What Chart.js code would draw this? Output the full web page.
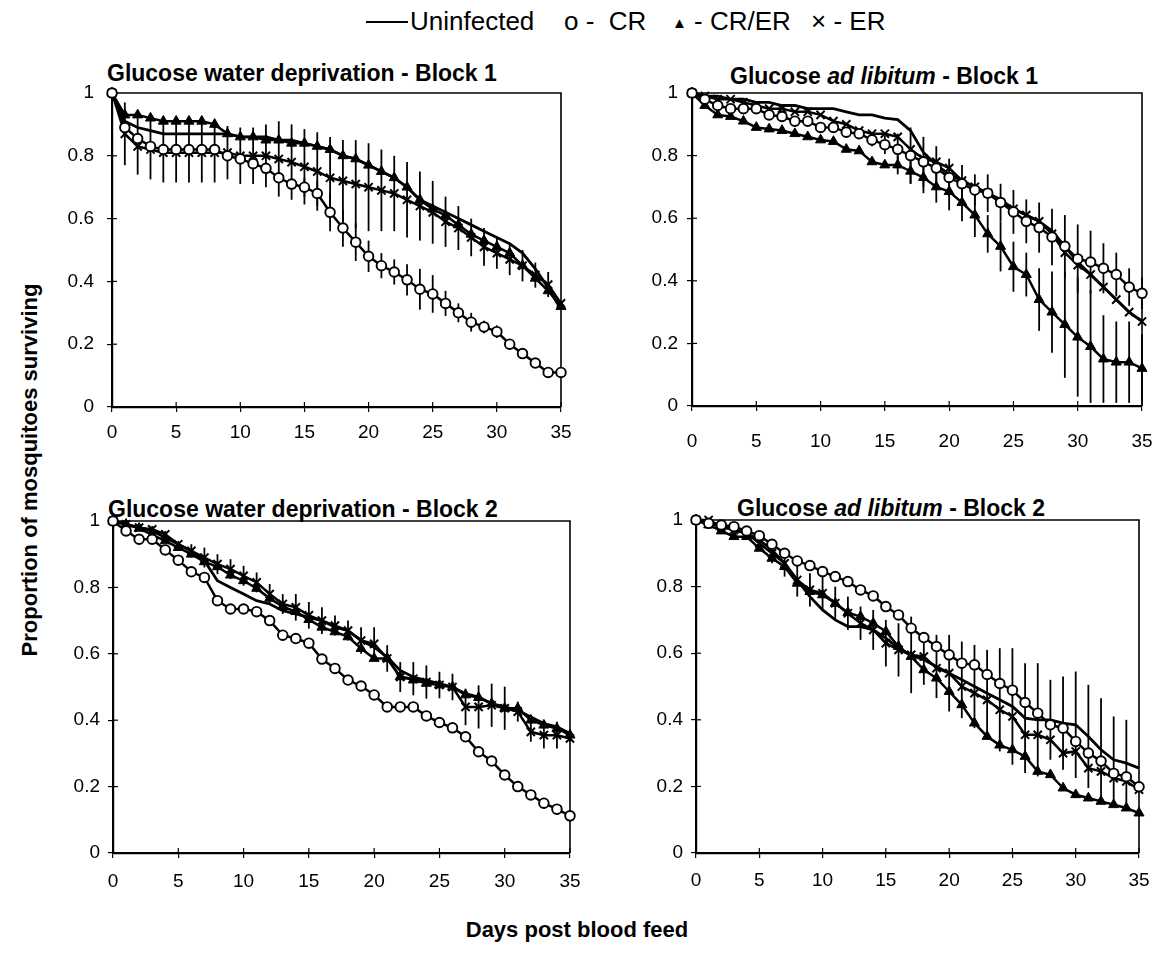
<!DOCTYPE html>
<html>
<head>
<meta charset="utf-8">
<script src="https://cdn.jsdelivr.net/npm/chart.js@4.4.1/dist/chart.umd.min.js"></script>
<style>
  body { margin: 0; background: #fff; }
  #page { position: relative; width: 1170px; height: 958px; overflow: hidden; background: #fff;
          font-family: "Liberation Sans", Arial, sans-serif; color: #000; }
  canvas { position: absolute; }
  .ptitle { position: absolute; font-weight: bold; font-size: 23px; line-height: 23px; white-space: nowrap; }
  .legt { position: absolute; top: 8px; font-size: 26px; line-height: 26px; white-space: nowrap; }
  .axt { position: absolute; font-weight: bold; font-size: 22px; line-height: 24px; text-align: center; white-space: nowrap; }
</style>
</head>
<body>
<div id="page">
  <div style="position:absolute; left:366px; top:21px; width:42px; border-top:2px solid #000"></div>
  <div class="legt" style="left:410px">Uninfected</div>
  <div class="legt" style="left:564px">o -&nbsp; CR</div>
  <div class="legt" style="left:672px"><span style="font-size:15px; vertical-align:2px">▲</span> - CR/ER</div>
  <div class="legt" style="left:811px">× - ER</div>

  <div class="ptitle" style="left:107px; top:62px">Glucose water deprivation - Block 1</div>
  <div class="ptitle" style="left:730px; top:65px">Glucose <i>ad libitum</i> - Block 1</div>
  <div class="ptitle" style="left:108px; top:498px">Glucose water deprivation - Block 2</div>
  <div class="ptitle" style="left:737px; top:497px">Glucose <i>ad libitum</i> - Block 2</div>

  <div class="axt" style="left:-270px; top:458px; width:600px; transform:rotate(-90deg)">Proportion of mosquitoes surviving</div>
  <div class="axt" style="left:327px; top:918px; width:500px">Days post blood feed</div>

  <canvas id="p1"></canvas>
  <canvas id="p2"></canvas>
  <canvas id="p3"></canvas>
  <canvas id="p4"></canvas>
</div>
<script>
const DAYS = [0, 1, 2, 3, 4, 5, 6, 7, 8, 9, 10, 11, 12, 13, 14, 15, 16, 17, 18, 19, 20,
	21, 22, 23, 24, 25, 26, 27, 28, 29, 30, 31, 32, 33, 34, 35];
const Y_TICKS = [0, 0.2, 0.4, 0.6, 0.8, 1];
const X_TICKS = [0, 5, 10, 15, 20, 25, 30, 35];
const SERIES_NAMES = ["Uninfected", "CR", "CR/ER", "ER"];

// Glucose water deprivation - Block 1
const p1Uninf = [1.00, 0.91, 0.89, 0.88, 0.87, 0.87, 0.87, 0.87, 0.87, 0.87, 0.86, 0.86, 0.86, 0.85, 0.85, 0.84, 0.83, 0.82,
	0.80, 0.79, 0.77, 0.75, 0.73, 0.70, 0.66, 0.64, 0.62, 0.60, 0.58, 0.56, 0.54, 0.52, 0.49, 0.44, 0.38, 0.31];
const p1CR = [1.00, 0.89, 0.855, 0.83, 0.82, 0.82, 0.82, 0.82, 0.82, 0.80, 0.79, 0.775, 0.76, 0.73, 0.71, 0.70, 0.68, 0.62,
	0.57, 0.525, 0.48, 0.45, 0.43, 0.405, 0.375, 0.36, 0.33, 0.30, 0.27, 0.255, 0.24, 0.20, 0.17, 0.14, 0.11, 0.11];
const p1CRER = [1.00, 0.93, 0.93, 0.92, 0.91, 0.91, 0.91, 0.91, 0.90, 0.87, 0.86, 0.86, 0.85, 0.85, 0.84, 0.84, 0.83, 0.82,
	0.80, 0.79, 0.77, 0.75, 0.73, 0.70, 0.66, 0.63, 0.61, 0.58, 0.55, 0.53, 0.51, 0.49, 0.45, 0.41, 0.37, 0.32];
const p1ER = [1.00, 0.87, 0.83, 0.82, 0.81, 0.81, 0.81, 0.81, 0.81, 0.81, 0.80, 0.80, 0.80, 0.79, 0.78, 0.765, 0.75, 0.73,
	0.72, 0.71, 0.70, 0.69, 0.68, 0.66, 0.64, 0.62, 0.59, 0.57, 0.54, 0.51, 0.49, 0.47, 0.45, 0.42, 0.39, 0.33];
const p1ERErr = [0, 0.10, 0.09, 0.095, 0.095, 0.095, 0.095, 0.095, 0.095, 0.085, 0.09, 0.09, 0.10, 0.12, 0.12, 0.12, 0.125, 0.13,
	0.13, 0.14, 0.14, 0.13, 0.12, 0.12, 0.11, 0.10, 0.08, 0.07, 0.06, 0.06, 0.05, 0.05, 0.05, 0.04, 0.04, 0];
const p1CRErr = [0, 0, 0, 0, 0, 0, 0, 0, 0, 0, 0, 0, 0, 0, 0, 0.03, 0.04, 0.06,
	0.06, 0.06, 0.05, 0.04, 0.04, 0.05, 0.065, 0.06, 0.04, 0.03, 0.03, 0.02, 0.02, 0, 0, 0, 0, 0];

// Glucose ad libitum - Block 1
const p2Uninf = [1.00, 0.99, 0.99, 0.98, 0.98, 0.97, 0.97, 0.96, 0.96, 0.95, 0.95, 0.95, 0.94, 0.93, 0.93, 0.92, 0.915, 0.88,
	0.81, 0.77, 0.74, 0.72, 0.70, 0.68, 0.66, 0.63, 0.61, 0.59, 0.56, 0.51, 0.46, 0.42, 0.38, 0.34, 0.30, 0.27];
const p2CR = [1.00, 0.98, 0.96, 0.95, 0.95, 0.95, 0.93, 0.925, 0.91, 0.91, 0.89, 0.89, 0.875, 0.87, 0.85, 0.835, 0.82, 0.80,
	0.78, 0.76, 0.73, 0.71, 0.69, 0.68, 0.65, 0.62, 0.59, 0.57, 0.54, 0.51, 0.47, 0.46, 0.44, 0.42, 0.38, 0.36];
const p2CRER = [1.00, 0.96, 0.93, 0.925, 0.91, 0.89, 0.885, 0.88, 0.87, 0.86, 0.85, 0.845, 0.82, 0.815, 0.78, 0.77, 0.77, 0.75,
	0.73, 0.70, 0.685, 0.65, 0.61, 0.55, 0.51, 0.445, 0.42, 0.34, 0.30, 0.26, 0.22, 0.19, 0.15, 0.14, 0.14, 0.12];
const p2ER = [1.00, 0.99, 0.98, 0.98, 0.97, 0.96, 0.95, 0.95, 0.94, 0.94, 0.93, 0.91, 0.90, 0.88, 0.87, 0.87, 0.86, 0.82,
	0.79, 0.78, 0.76, 0.72, 0.70, 0.68, 0.65, 0.63, 0.61, 0.59, 0.55, 0.49, 0.45, 0.42, 0.38, 0.34, 0.30, 0.27];
const p2CRERErr = [0, 0, 0, 0, 0, 0, 0, 0, 0, 0, 0, 0, 0, 0, 0, 0, 0.03, 0.04,
	0.05, 0.05, 0.06, 0.06, 0.07, 0.06, 0.08, 0.08, 0.07, 0.10, 0.13, 0.17, 0.19, 0.18, 0.14, 0.13, 0.13, 0.11];
const p2CRErr = [0, 0, 0, 0, 0, 0, 0, 0, 0, 0, 0, 0, 0, 0, 0.02, 0.03, 0.05, 0.09,
	0.08, 0.07, 0.06, 0.06, 0.05, 0.06, 0.06, 0.07, 0.07, 0.08, 0.09, 0.10, 0.11, 0.10, 0.08, 0.07, 0.06, 0.05];

// Glucose water deprivation - Block 2
const p3Uninf = [1.00, 0.99, 0.98, 0.97, 0.95, 0.93, 0.91, 0.88, 0.82, 0.80, 0.78, 0.76, 0.75, 0.73, 0.72, 0.71, 0.70, 0.68,
	0.67, 0.64, 0.62, 0.59, 0.55, 0.53, 0.52, 0.51, 0.50, 0.48, 0.47, 0.45, 0.44, 0.43, 0.41, 0.39, 0.38, 0.36];
const p3CR = [1.00, 0.97, 0.945, 0.945, 0.913, 0.882, 0.847, 0.83, 0.76, 0.735, 0.735, 0.727, 0.70, 0.656, 0.646, 0.632, 0.584, 0.556,
	0.521, 0.503, 0.476, 0.44, 0.44, 0.44, 0.413, 0.393, 0.377, 0.35, 0.305, 0.277, 0.235, 0.20, 0.175, 0.15, 0.132, 0.112];
const p3CRER = [1.00, 0.99, 0.978, 0.958, 0.94, 0.92, 0.90, 0.877, 0.862, 0.837, 0.82, 0.797, 0.767, 0.742, 0.727, 0.703, 0.68, 0.666,
	0.651, 0.616, 0.586, 0.586, 0.531, 0.521, 0.511, 0.506, 0.50, 0.476, 0.468, 0.45, 0.436, 0.436, 0.40, 0.385, 0.375, 0.355];
const p3ER = [1.00, 0.99, 0.98, 0.975, 0.96, 0.93, 0.91, 0.89, 0.87, 0.855, 0.835, 0.815, 0.78, 0.75, 0.74, 0.716, 0.70, 0.685,
	0.67, 0.64, 0.63, 0.586, 0.53, 0.525, 0.515, 0.506, 0.50, 0.44, 0.44, 0.445, 0.436, 0.426, 0.365, 0.355, 0.355, 0.345];
const p3ERErr = [0, 0, 0, 0.01, 0.01, 0.01, 0.02, 0.03, 0.03, 0.03, 0.03, 0.03, 0.03, 0.03, 0.04, 0.04, 0.04, 0.03,
	0.03, 0.04, 0.05, 0.04, 0.045, 0.05, 0.05, 0.04, 0.04, 0.055, 0.065, 0.065, 0.065, 0.03, 0.03, 0.04, 0.04, 0.01];

// Glucose ad libitum - Block 2
const p4Uninf = [1.00, 0.99, 0.98, 0.97, 0.96, 0.94, 0.91, 0.87, 0.82, 0.77, 0.73, 0.70, 0.68, 0.68, 0.67, 0.645, 0.615, 0.595,
	0.58, 0.56, 0.54, 0.52, 0.50, 0.48, 0.46, 0.44, 0.405, 0.40, 0.40, 0.39, 0.385, 0.35, 0.31, 0.28, 0.27, 0.255];
const p4CR = [1.00, 0.99, 0.985, 0.98, 0.967, 0.953, 0.927, 0.90, 0.877, 0.863, 0.845, 0.83, 0.815, 0.79, 0.772, 0.74, 0.715, 0.675,
	0.647, 0.62, 0.595, 0.57, 0.565, 0.536, 0.509, 0.489, 0.452, 0.42, 0.385, 0.375, 0.335, 0.30, 0.276, 0.239, 0.229, 0.199];
const p4CRER = [1.00, 0.985, 0.967, 0.95, 0.95, 0.915, 0.885, 0.86, 0.81, 0.785, 0.775, 0.75, 0.722, 0.71, 0.69, 0.665, 0.62, 0.59,
	0.55, 0.525, 0.485, 0.445, 0.39, 0.35, 0.324, 0.31, 0.29, 0.245, 0.235, 0.195, 0.175, 0.165, 0.155, 0.145, 0.135, 0.12];
const p4ER = [1.00, 1.00, 0.98, 0.97, 0.96, 0.93, 0.90, 0.87, 0.82, 0.79, 0.78, 0.75, 0.72, 0.69, 0.67, 0.63, 0.61, 0.595,
	0.59, 0.555, 0.54, 0.50, 0.48, 0.46, 0.43, 0.41, 0.355, 0.355, 0.34, 0.30, 0.305, 0.255, 0.245, 0.225, 0.215, 0.19];
const p4ERErr = [0, 0, 0, 0, 0, 0.02, 0.03, 0.04, 0.05, 0.05, 0.05, 0.05, 0.05, 0.05, 0.06, 0.07, 0.08, 0,
	0, 0, 0, 0, 0, 0, 0, 0, 0, 0, 0, 0, 0, 0, 0, 0, 0, 0];
const p4UninfErr = [0, 0, 0, 0, 0, 0, 0, 0, 0, 0, 0, 0, 0, 0, 0, 0, 0, 0.115,
	0.075, 0.095, 0.115, 0.115, 0.125, 0.13, 0.155, 0.175, 0.165, 0.17, 0.12, 0.14, 0.16, 0.155, 0.155, 0.13, 0.13, 0];

const FONT = "'Liberation Sans', Arial, sans-serif";
const PAD_TOP = 16;
const PAD_RIGHT = 18;
const Y_W = 80;
const X_H = 50;

// vertical error bars, drawn under the lines and markers
const errorBars = {
	id: "errorBars",
	beforeDatasetsDraw(chart) {
		const { ctx, scales } = chart;
		ctx.save();
		ctx.strokeStyle = "#000";
		ctx.lineWidth = 1.8;
		chart.data.datasets.forEach((ds) => {
			if (!ds.errors) return;
			ds.errors.forEach((e, i) => {
				if (!e) return;
				const px = scales.x.getPixelForValue(DAYS[i]);
				const top = scales.y.getPixelForValue(Math.min(1, ds.data[i] + e));
				const bot = scales.y.getPixelForValue(Math.max(0, ds.data[i] - e));
				ctx.beginPath();
				ctx.moveTo(px, top);
				ctx.lineTo(px, bot);
				ctx.stroke();
			});
		});
		ctx.restore();
	},
};

// top/right frame and the inner half of the tick marks
const frame = {
	id: "frame",
	beforeDatasetsDraw(chart) {
		const { ctx, chartArea: a, scales } = chart;
		ctx.save();
		ctx.strokeStyle = "#000";
		ctx.lineWidth = 1.6;
		ctx.beginPath();
		ctx.moveTo(a.left, a.top);
		ctx.lineTo(a.right, a.top);
		ctx.lineTo(a.right, a.bottom);
		ctx.stroke();
		ctx.lineWidth = 1.2;
		X_TICKS.forEach((t) => {
			const px = scales.x.getPixelForValue(t);
			ctx.beginPath();
			ctx.moveTo(px, a.bottom);
			ctx.lineTo(px, a.bottom - 5);
			ctx.stroke();
		});
		Y_TICKS.forEach((t) => {
			const py = scales.y.getPixelForValue(t);
			ctx.beginPath();
			ctx.moveTo(a.left, py);
			ctx.lineTo(a.left + 5, py);
			ctx.stroke();
		});
		ctx.restore();
	},
};

const makeDatasets = (uninf, cr, crer, er, errs) => [
	{
		label: SERIES_NAMES[1], data: cr, errors: errs.cr,
		pointStyle: "circle", pointRadius: 4.8, pointBackgroundColor: "#fff", pointBorderColor: "#000", pointBorderWidth: 1.9,
		borderColor: "#000", borderWidth: 2.5, clip: false,
	},
	{
		label: SERIES_NAMES[2], data: crer, errors: errs.crer,
		pointStyle: "triangle", pointRadius: 5.8, pointBackgroundColor: "#000", pointBorderColor: "#000", pointBorderWidth: 1,
		borderColor: "#000", borderWidth: 2.5, clip: false,
	},
	{
		label: SERIES_NAMES[3], data: er, errors: errs.er,
		pointStyle: "crossRot", pointRadius: 5.8, pointBorderColor: "#000", pointBorderWidth: 2,
		borderColor: "#000", borderWidth: 2.5, clip: false,
	},
	{
		label: SERIES_NAMES[0], data: uninf, errors: errs.uninf,
		pointRadius: 0, borderColor: "#000", borderWidth: 2.8, clip: false,
	},
];

const axisCommon = {
	border: { display: true, color: "#000", width: 2.2 },
	grid: { drawOnChartArea: false, color: "#000", tickColor: "#000", tickLength: 5, lineWidth: 1.2 },
};

const drawPanel = (id, area, xPad, yPad, datasets) => {
	const [L, T, R, B] = area;
	const cv = document.getElementById(id);
	cv.width = R - L + Y_W + PAD_RIGHT;
	cv.height = B - T + PAD_TOP + X_H;
	cv.style.left = L - Y_W + "px";
	cv.style.top = T - PAD_TOP + "px";
	return new Chart(cv, {
		type: "line",
		data: { labels: DAYS, datasets },
		options: {
			responsive: false,
			animation: false,
			devicePixelRatio: 1,
			elements: { line: { tension: 0 } },
			layout: { padding: { top: PAD_TOP, right: PAD_RIGHT, left: 0, bottom: 0 } },
			plugins: { legend: { display: false }, tooltip: { enabled: false }, title: { display: false } },
			scales: {
				x: {
					...axisCommon,
					type: "linear", min: 0, max: 35,
					ticks: { stepSize: 5, color: "#000", font: { family: FONT, size: 19 }, padding: xPad, maxRotation: 0 },
					afterFit: (s) => { s.height = X_H; s.paddingLeft = 0; s.paddingRight = 0; },
				},
				y: {
					...axisCommon,
					min: 0, max: 1,
					ticks: {
						stepSize: 0.2, color: "#000", font: { family: FONT, size: 19 }, padding: yPad,
						callback: (v) => String(Math.round(v * 10) / 10),
					},
					afterFit: (s) => { s.width = Y_W; s.paddingTop = 0; s.paddingBottom = 0; },
				},
			},
		},
		plugins: [frame, errorBars],
	});
};

drawPanel("p1", [112, 93, 561, 407], 9, 13,
	makeDatasets(p1Uninf, p1CR, p1CRER, p1ER, { cr: p1CRErr, er: p1ERErr }));
drawPanel("p2", [692, 93, 1142, 406], 19, 9,
	makeDatasets(p2Uninf, p2CR, p2CRER, p2ER, { cr: p2CRErr, crer: p2CRERErr }));
drawPanel("p3", [113, 521, 570, 853], 12, 8,
	makeDatasets(p3Uninf, p3CR, p3CRER, p3ER, { er: p3ERErr }));
drawPanel("p4", [696, 520, 1139, 853], 11, 8,
	makeDatasets(p4Uninf, p4CR, p4CRER, p4ER, { er: p4ERErr, uninf: p4UninfErr }));
</script>
</body>
</html>
